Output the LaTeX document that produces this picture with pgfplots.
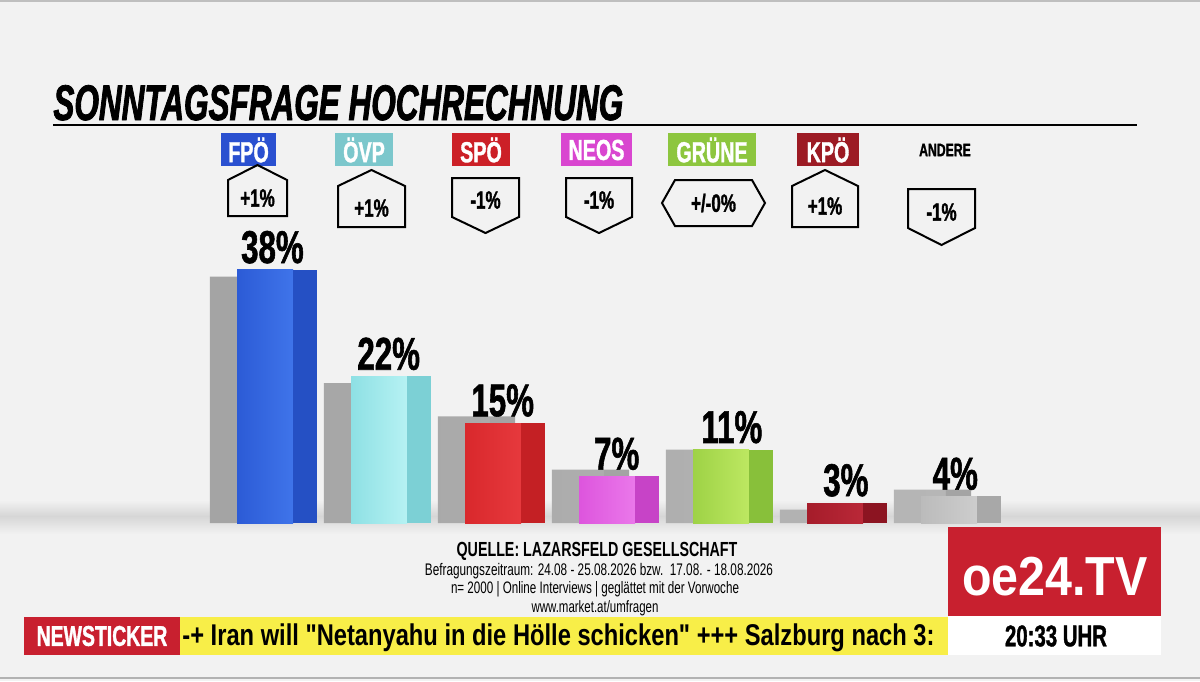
\documentclass[border=0pt]{standalone}
\usepackage{pgfplots}
\pgfplotsset{compat=1.18}
\usepackage{fontspec}
\setmainfont{Liberation Sans}
\newfontfamily\cond{Liberation Sans}[FakeStretch=0.7]
\newfontfamily\condH{Liberation Sans}[FakeStretch=0.68,FakeBold=1.2]
\newfontfamily\condK{Liberation Sans}[FakeStretch=0.79]
\newfontfamily\condT{Liberation Sans}[FakeStretch=0.63,FakeBold=1.6]
\newfontfamily\condL{Liberation Sans}[FakeStretch=0.88]
\definecolor{bg}{HTML}{F2F2F2}
\definecolor{floor}{HTML}{D6D6D6}
\definecolor{grF}{HTML}{B6B6B6}
\definecolor{grS}{HTML}{A4A4A4}
\definecolor{fpoF}{HTML}{2C5BD6}\definecolor{fpoL}{HTML}{3F74EA}\definecolor{fpoS}{HTML}{2550C4}\definecolor{fpoB}{HTML}{2A50D0}
\definecolor{ovpF}{HTML}{8EE0E4}\definecolor{ovpL}{HTML}{B6F2F3}\definecolor{ovpS}{HTML}{7CD0D5}\definecolor{ovpB}{HTML}{7CC7CC}
\definecolor{spoF}{HTML}{D9282C}\definecolor{spoL}{HTML}{E6393D}\definecolor{spoS}{HTML}{C42024}\definecolor{spoB}{HTML}{CC2027}
\definecolor{neoF}{HTML}{DD55DD}\definecolor{neoL}{HTML}{EA78EA}\definecolor{neoS}{HTML}{C743C7}\definecolor{neoB}{HTML}{D946D0}
\definecolor{gruF}{HTML}{9ED246}\definecolor{gruL}{HTML}{BDE862}\definecolor{gruS}{HTML}{88C03A}\definecolor{gruB}{HTML}{8DC63F}
\definecolor{kpoF}{HTML}{A51C2A}\definecolor{kpoL}{HTML}{BA2838}\definecolor{kpoS}{HTML}{8C1421}\definecolor{kpoB}{HTML}{9C1B24}
\definecolor{andF}{HTML}{BBBBBB}\definecolor{andL}{HTML}{CDCDCD}\definecolor{andS}{HTML}{A8A8A8}
\definecolor{oered}{HTML}{C8202F}
\definecolor{tickyel}{HTML}{F8EE48}
\pgfplotstableread{
x prev
0 37
1 21
2 16
3 8
4 11
5 2
6 5
}\prevdata
\begin{document}
\begin{tikzpicture}[x=0.5pt,y=-0.5pt]
\path[use as bounding box] (0,0) rectangle (1200,681);
\fill[bg] (0,0) rectangle (1200,681);
\fill[black!25] (0,0) rectangle (1200,2);
\fill[black!30] (0,677) rectangle (1200,679);
% floor
\shade[top color=bg, bottom color=floor] (0,500) rectangle (1200,516);
\shade[top color=floor, bottom color=bg] (0,516) rectangle (1200,534);
% title
\node[anchor=base west, inner sep=0pt, font=\condT\bfseries\itshape\fontsize{25}{25}\selectfont] at (53,120) {SONNTAGSFRAGE HOCHRECHNUNG};
\draw[line width=1.3pt] (53,125) -- (1137,125);
% party boxes
\tikzset{pl/.style={font=\condH\bfseries\fontsize{14.5}{14.5}\selectfont, text=white, inner sep=0pt}}
\fill[fpoB] (221,133) rectangle (276,166); \node[pl] at (248.5,150) {FPÖ};
\fill[ovpB] (335,133) rectangle (393,166); \node[pl] at (364,150) {ÖVP};
\fill[spoB] (452,133) rectangle (510,166); \node[pl] at (481,150) {SPÖ};
\fill[neoB] (561,133) rectangle (632,166); \node[pl] at (596.5,150) {NEOS};
\fill[gruB] (668,133) rectangle (756,166); \node[pl] at (712,150) {GRÜNE};
\fill[kpoB] (797,133) rectangle (859,166); \node[pl] at (828,150) {KPÖ};
\node[font=\condH\bfseries\fontsize{9}{9}\selectfont, inner sep=0pt] at (945,150) {ANDERE};
% change badges
\tikzset{bd/.style={line width=1pt, line join=miter}, bt/.style={font=\condH\bfseries\fontsize{12.5}{12.5}\selectfont, inner sep=0pt}}
\draw[bd] (228,216) -- (228,180) -- (257.5,165) -- (287,180) -- (287,216) -- cycle; \node[bt] at (257.5,198) {+1\%};
\draw[bd] (338,227) -- (338,186) -- (371.5,170) -- (405,186) -- (405,227) -- cycle; \node[bt] at (371.5,208) {+1\%};
\draw[bd] (452,178) -- (519,178) -- (519,217) -- (485.5,233) -- (452,217) -- cycle; \node[bt] at (485.5,200) {-1\%};
\draw[bd] (566,178) -- (632,178) -- (632,217) -- (599,233) -- (566,217) -- cycle; \node[bt] at (599,200) {-1\%};
\draw[bd] (662,203) -- (675,180) -- (752,180) -- (765,203) -- (752,226) -- (675,226) -- cycle; \node[bt] at (713.5,203) {+/-0\%};
\draw[bd] (792,227) -- (792,186) -- (825,170) -- (858,186) -- (858,227) -- cycle; \node[bt] at (825,206) {+1\%};
\draw[bd] (908,189) -- (975,189) -- (975,228) -- (941.5,245) -- (908,228) -- cycle; \node[bt] at (941.5,212) {-1\%};
% chart
\begin{axis}[at={(81.5pt,-261.5pt)}, anchor=south west, scale only axis,
  width=456pt, height=133.2pt, xmin=-1, xmax=7, ymin=0, ymax=40,
  hide axis, clip=false]
% previous week (gray, behind)
\addplot[ybar, bar width=0.456, bar shift=-0.36, draw=none, left color=grF!90!black, right color=grF] table[x=x,y=prev] {\prevdata};
\addplot[ybar, bar width=0.22, bar shift=-0.022, draw=none, fill=grS] table[x=x,y=prev] {\prevdata};
% current
\addplot[ybar, bar width=0.491, bar shift=-0.105, draw=none, left color=fpoF, right color=fpoL] coordinates {(0,38)};
\addplot[ybar, bar width=0.21, bar shift=0.245, draw=none, fill=fpoS] coordinates {(0,38)};
\addplot[ybar, bar width=0.491, bar shift=-0.105, draw=none, left color=ovpF, right color=ovpL] coordinates {(1,22)};
\addplot[ybar, bar width=0.21, bar shift=0.245, draw=none, fill=ovpS] coordinates {(1,22)};
\addplot[ybar, bar width=0.491, bar shift=-0.105, draw=none, left color=spoF, right color=spoL] coordinates {(2,15)};
\addplot[ybar, bar width=0.21, bar shift=0.245, draw=none, fill=spoS] coordinates {(2,15)};
\addplot[ybar, bar width=0.491, bar shift=-0.105, draw=none, left color=neoF, right color=neoL] coordinates {(3,7)};
\addplot[ybar, bar width=0.21, bar shift=0.245, draw=none, fill=neoS] coordinates {(3,7)};
\addplot[ybar, bar width=0.491, bar shift=-0.105, draw=none, left color=gruF, right color=gruL] coordinates {(4,11)};
\addplot[ybar, bar width=0.21, bar shift=0.245, draw=none, fill=gruS] coordinates {(4,11)};
\addplot[ybar, bar width=0.491, bar shift=-0.105, draw=none, left color=kpoF, right color=kpoL] coordinates {(5,3)};
\addplot[ybar, bar width=0.21, bar shift=0.245, draw=none, fill=kpoS] coordinates {(5,3)};
\addplot[ybar, bar width=0.491, bar shift=-0.105, draw=none, left color=andF, right color=andL] coordinates {(6,4)};
\addplot[ybar, bar width=0.21, bar shift=0.245, draw=none, fill=andS] coordinates {(6,4)};
% value labels
\tikzset{vl/.style={anchor=south, inner sep=0pt, yshift=3pt, font=\condH\bfseries\fontsize{23}{23}\selectfont}}
\node[vl] at (axis cs:-0.04,38) {38\%};
\node[vl] at (axis cs:0.98,22) {22\%};
\node[vl] at (axis cs:1.98,15) {15\%};
\node[vl] at (axis cs:2.98,7) {7\%};
\node[vl] at (axis cs:3.99,11) {11\%};
\node[vl] at (axis cs:4.99,3) {3\%};
\node[vl] at (axis cs:5.95,4) {4\%};
\end{axis}
% source
\node[anchor=base, inner sep=0pt, font=\cond\bfseries\fontsize{10.2}{10}\selectfont] at (597,556) {QUELLE: LAZARSFELD GESELLSCHAFT};
\node[anchor=base, inner sep=0pt, font=\cond\fontsize{8.4}{8}\selectfont] at (599,575) {Befragungszeitraum: 24.08 - 25.08.2026 bzw.\ \ 17.08. - 18.08.2026};
\node[anchor=base, inner sep=0pt, font=\cond\fontsize{8.3}{8}\selectfont] at (595,593) {n= 2000 | Online Interviews | geglättet mit der Vorwoche};
\node[anchor=base, inner sep=0pt, font=\cond\fontsize{8.2}{8}\selectfont] at (595,612) {www.market.at/umfragen};
% logo
\fill[oered] (948,527) rectangle (1161,616);
\node[text=white, inner sep=0pt, font=\condL\bfseries\fontsize{27.5}{27.5}\selectfont] at (1055,577) {oe24.TV};
\fill[white] (948,616) rectangle (1161,655);
\node[inner sep=0pt, font=\condH\bfseries\fontsize{15}{15}\selectfont] at (1056,636) {20:33 UHR};
% ticker
\fill[oered] (24,617) rectangle (180,655);
\node[text=white, inner sep=0pt, font=\condH\bfseries\fontsize{14.3}{14.3}\selectfont] at (102,636) {NEWSTICKER};
\fill[tickyel] (180,617) rectangle (948,655);
\begin{scope}
\clip (180,617) rectangle (945,655);
\node[anchor=base west, inner sep=0pt, font=\condK\bfseries\fontsize{15}{15}\selectfont] at (182,645) {-+ Iran will "Netanyahu in die Hölle schicken" +++ Salzburg nach 3:};
\end{scope}
\end{tikzpicture}
\end{document}
